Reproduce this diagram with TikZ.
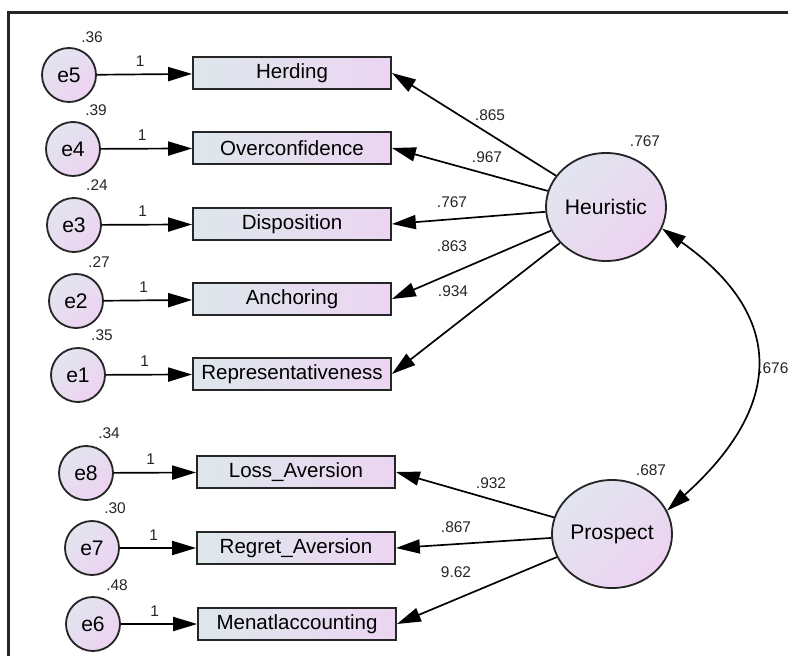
\documentclass[tikz,border=0pt]{standalone}
\usepackage{fontspec}
\setmainfont{Liberation Sans}
\usetikzlibrary{shapes.geometric,arrows.meta}
\definecolor{boxl}{RGB}{222,231,236}
\definecolor{boxr}{RGB}{236,213,242}
\definecolor{circl}{RGB}{226,229,239}
\definecolor{circr}{RGB}{237,211,241}
\tikzset{
  errnode/.style={circle, draw=black!85, line width=1.3pt, minimum size=1.35cm, inner sep=0pt,
    top color=circl, bottom color=circr, shading angle=45, font=\fontsize{15}{15}\selectfont},
  obsbox/.style={rectangle, draw=black!85, line width=1.3pt, minimum width=4.95cm, minimum height=0.78cm,
    inner sep=0pt, left color=boxl, right color=boxr, font=\fontsize{14.6}{14.6}\selectfont},
  latent/.style={ellipse, draw=black!85, line width=1.3pt, minimum width=3cm, minimum height=2.7cm,
    inner sep=0pt, top color=circl, bottom color=circr, shading angle=45, font=\fontsize{15}{15}\selectfont},
  num/.style={font=\fontsize{11}{11}\selectfont, inner sep=0pt, text=black!85},
  arr/.style={line width=1.2pt, -{Triangle[length=17pt,width=10pt]}}
}
\begin{document}
\begin{tikzpicture}[x=0.025cm, y=-0.025cm]
  \useasboundingbox (0,0) rectangle (788,656);
  \fill[white] (0,0) rectangle (788,656);
  \draw[line width=2.2pt, black!85] (8.5,12.5) rectangle (830,700);
  \node[latent] (heur) at (606,207) {Heuristic};
  \node[latent] (pros) at (612,534) {Prospect};
  \foreach \n/\ex/\ey/\vx/\vy/\v/\b/\bx/\by/\t in {
      5/69/75/92/37/.36/herd/292/73/Herding,
      4/73/149/96/110/.39/over/292/148/Overconfidence,
      3/74/225/97/185/.24/disp/292/224/Disposition,
      2/76/301/99/262/.27/anch/292/299/Anchoring,
      1/78/375/102/335/.35/repr/292/374/Representativeness,
      8/86/473/109/433/.34/loss/296/472/Loss\_Aversion,
      7/92/548/115/508/.30/regr/296/548/Regret\_Aversion,
      6/93/624/117/585/.48/ment/297/624/Menatlaccounting}{
    \node[errnode] (e\n) at (\ex,\ey) {e\n};
    \node[obsbox] (\b) at (\bx,\by) {\t};
    \node[num] (v\n) at (\vx,\vy) {\v};
    \draw[arr] (e\n) -- node[num, above=5pt, xshift=-3pt] (w\n) {1} (\b);
  }
  \foreach \b/\l/\lx/\ly in {herd/.865/490/115, over/.967/487/157, disp/.767/452/202,
      anch/.863/452/246, repr/.934/453/291}{
    \draw[arr] (heur) -- (\b.east);
    \node[num] (l\b) at (\lx,\ly) {\l};
  }
  \foreach \b/\l/\lx/\ly in {loss/.932/491/483, regr/.867/456/527, ment/9.62/456/572}{
    \draw[arr] (pros) -- (\b.east);
    \node[num] (l\b) at (\lx,\ly) {\l};
  }
  \node[num] (vheur) at (645,141) {.767};
  \node[num] (vpros) at (651,470) {.687};
  \draw[line width=1.2pt, {Triangle[length=17pt,width=10pt]}-{Triangle[length=17pt,width=10pt]}]
    (heur.-21) .. controls (785,315) and (785,405) .. (pros.23);
  \node[num, anchor=west] (cov) at (758,368) {.676};
\end{tikzpicture}
\end{document}
